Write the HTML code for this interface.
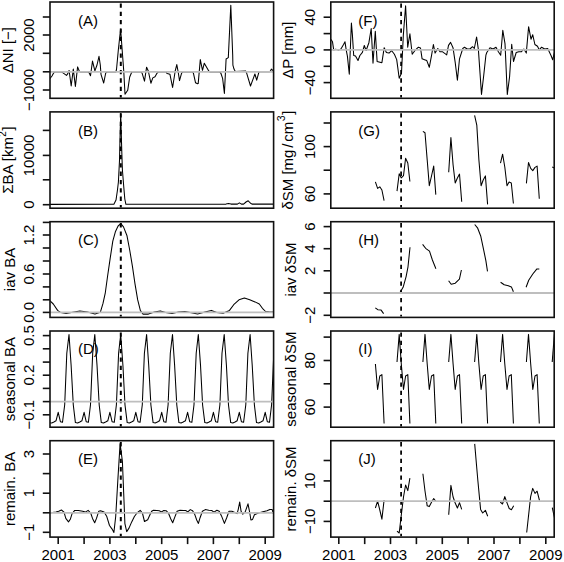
<!DOCTYPE html><html><head><meta charset="utf-8"><style>html,body{margin:0;padding:0;background:#fff;width:564px;height:562px;overflow:hidden}svg{display:block}text{font-family:"Liberation Sans",sans-serif;fill:#000}</style></head><body>
<svg width="564" height="562" viewBox="0 0 564 562">
<rect width="564" height="562" fill="#fff"/>
<clipPath id="cA"><rect x="50" y="2" width="223.6" height="96.3"/></clipPath>
<g clip-path="url(#cA)">
<polyline points="49.8,78.8 52,76 53.6,73.1 54.5,72 60,72 62.3,72.2 63.3,73.1 66.5,75.4 67.8,73.6 69.1,70.5 71.2,86 73.3,69.1 75.4,86.5 77.6,66.9 79.4,71.4 80.5,72 88,72 89.1,72.7 90.5,75.8 92.5,61.1 94.9,70.9 97,65 99,56.3 100.3,65 101,74.3 103.7,83 105.7,73 107,72 115.8,72 116.5,69.5 118.3,50.3 120.6,29 122.3,51.7 123.7,70.3 125,94.3 127.7,90.3 129.7,77 131.7,72.3 133,72 141,72 142.1,73.1 144.5,81.1 146.6,67.2 148.3,71 150.9,83.2 152.8,77.9 155,76.8 157.1,73.1 158.3,72 166,72 167.2,73.6 169.9,74.2 172.6,87.5 175.2,71 176.8,64.6 178.2,72 179.5,80.6 181.6,73.1 182.8,72 192.3,72 193.4,73.1 195.5,82.7 197.6,83.8 198.2,83.6 200.3,59.6 202.5,70.3 204.3,63.2 208.9,71.2 210,72 219.7,72 220.8,73 222.6,78.3 224.4,93.4 226.1,59 228.3,57.6 230.8,5.3 232.7,55 232.9,65.1 234,69.1 235.3,71.4 245.6,70.9 246.5,72.7 250.5,86 253.6,77.6 254.9,74 256.7,80.2 258.9,72.2 260,71.8 269.5,71.8 270.5,70.9 271.4,69.1 274,71.4" fill="none" stroke="#000" stroke-width="1.05" stroke-linejoin="round"/>
</g>
<line x1="120.8" x2="120.8" y1="2.8" y2="97.5" stroke="#000" stroke-width="2" stroke-dasharray="4.3 4.03" stroke-dashoffset="-0.6"/>
<line x1="50" x2="273.6" y1="71.8" y2="71.8" stroke="#bebebe" stroke-width="1.8"/>
<rect x="50" y="2" width="223.6" height="96.3" fill="none" stroke="#111" stroke-width="1.6"/>
<line x1="42.8" x2="50" y1="17" y2="17" stroke="#111" stroke-width="1.6"/>
<line x1="42.8" x2="50" y1="35" y2="35" stroke="#111" stroke-width="1.6"/>
<text transform="translate(34.1,35) rotate(-90)" text-anchor="middle" font-size="15">2000</text>
<line x1="42.8" x2="50" y1="53.3" y2="53.3" stroke="#111" stroke-width="1.6"/>
<line x1="42.8" x2="50" y1="71.8" y2="71.8" stroke="#111" stroke-width="1.6"/>
<line x1="42.8" x2="50" y1="90" y2="90" stroke="#111" stroke-width="1.6"/>
<text transform="translate(34.1,90) rotate(-90)" text-anchor="middle" font-size="15">−1000</text>
<text transform="translate(12.8,50.1) rotate(-90)" text-anchor="middle" font-size="15">ΔNI [−]</text>
<text x="77.9" y="26.1" font-size="15">(A)</text>
<clipPath id="cB"><rect x="50" y="111.9" width="223.6" height="96.3"/></clipPath>
<g clip-path="url(#cB)">
<polyline points="49.5,204.4 108,204.3 113.9,204.3 116,200.1 117.4,190.5 118.4,182 119.5,160.5 120.1,135 120.7,113.5 121.3,135 121.8,152 122.4,170 123.8,187.3 124.8,199 125.9,204.3 226,204.1 228.5,203.6 231,204.1 237.4,204.1 239.4,202.9 241.4,204.1 243.6,204.1 246,202 248.2,200.8 250.3,203 252,204.1 274,204.1" fill="none" stroke="#000" stroke-width="1.05" stroke-linejoin="round"/>
</g>
<line x1="120.8" x2="120.8" y1="112.7" y2="207.4" stroke="#000" stroke-width="2" stroke-dasharray="4.3 4.03" stroke-dashoffset="-0.6"/>
<rect x="50" y="111.9" width="223.6" height="96.3" fill="none" stroke="#111" stroke-width="1.6"/>
<line x1="42.8" x2="50" y1="130.4" y2="130.4" stroke="#111" stroke-width="1.6"/>
<line x1="42.8" x2="50" y1="155.4" y2="155.4" stroke="#111" stroke-width="1.6"/>
<text transform="translate(34.1,155.4) rotate(-90)" text-anchor="middle" font-size="15">10000</text>
<line x1="42.8" x2="50" y1="179.8" y2="179.8" stroke="#111" stroke-width="1.6"/>
<line x1="42.8" x2="50" y1="204.7" y2="204.7" stroke="#111" stroke-width="1.6"/>
<text transform="translate(34.1,204.7) rotate(-90)" text-anchor="middle" font-size="15">0</text>
<text transform="translate(12.8,160.1) rotate(-90)" text-anchor="middle" font-size="15">ΣBA [km<tspan font-size="10" dy="-6.5" dx="0.3">2</tspan><tspan dy="6.5" dx="0.6">]</tspan></text>
<text x="77.9" y="135.7" font-size="15">(B)</text>
<clipPath id="cC"><rect x="50" y="221.7" width="223.6" height="95.7"/></clipPath>
<g clip-path="url(#cC)">
<polyline points="49.5,300.5 50.1,300.9 53.3,304 57.6,310.4 60.8,312.6 66.1,313.6 71.4,312.6 79.9,311.1 87.4,312.1 95,314.1 100.3,312.3 103,303.4 105.3,292.8 107.5,276.7 110.1,258.9 112.8,241.1 115.5,231.4 118.1,226 120.8,223.7 123.5,226.9 127,235.8 129.7,250 132.4,266.1 135,283.9 137.7,299.9 140.4,310.6 143.1,314.1 148.4,314.1 154.4,312.1 160.3,310.9 165.6,312.6 172,313.6 178.4,311.9 184.8,311.5 190.1,312.6 197.6,314 205,312.1 211.4,310.4 216.7,312.6 223.1,313.2 229.5,310.4 233.7,304.7 239,299.8 244.4,298.1 249.7,299.8 255,301.9 259.3,304 262.4,308.3 265.6,311.5 269.9,312.1 274,312.1" fill="none" stroke="#000" stroke-width="1.05" stroke-linejoin="round"/>
</g>
<line x1="120.8" x2="120.8" y1="222.5" y2="316.6" stroke="#000" stroke-width="2" stroke-dasharray="4.3 4.03" stroke-dashoffset="-0.6"/>
<line x1="50" x2="273.6" y1="312.4" y2="312.4" stroke="#bebebe" stroke-width="1.8"/>
<rect x="50" y="221.7" width="223.6" height="95.7" fill="none" stroke="#111" stroke-width="1.6"/>
<line x1="42.8" x2="50" y1="222.4" y2="222.4" stroke="#111" stroke-width="1.6"/>
<line x1="42.8" x2="50" y1="235" y2="235" stroke="#111" stroke-width="1.6"/>
<text transform="translate(34.1,235) rotate(-90)" text-anchor="middle" font-size="15">1.2</text>
<line x1="42.8" x2="50" y1="248" y2="248" stroke="#111" stroke-width="1.6"/>
<line x1="42.8" x2="50" y1="261" y2="261" stroke="#111" stroke-width="1.6"/>
<line x1="42.8" x2="50" y1="274" y2="274" stroke="#111" stroke-width="1.6"/>
<text transform="translate(34.1,274) rotate(-90)" text-anchor="middle" font-size="15">0.6</text>
<line x1="42.8" x2="50" y1="286.9" y2="286.9" stroke="#111" stroke-width="1.6"/>
<line x1="42.8" x2="50" y1="299.8" y2="299.8" stroke="#111" stroke-width="1.6"/>
<line x1="42.8" x2="50" y1="312.4" y2="312.4" stroke="#111" stroke-width="1.6"/>
<text transform="translate(34.1,312.4) rotate(-90)" text-anchor="middle" font-size="15">0.0</text>
<text transform="translate(15.2,269.5) rotate(-90)" text-anchor="middle" font-size="15">iav BA</text>
<text x="77.9" y="245.1" font-size="15">(C)</text>
<clipPath id="cD"><rect x="50" y="331" width="223.6" height="96.2"/></clipPath>
<g clip-path="url(#cD)">
<polyline points="47.4,405 49.6,422.6 51.7,423 53.9,422 56,420.8 58.2,412.3 60.4,421.7 62.5,422.3 64.7,404.8 66.8,353.2 69,334.5 71.1,365 73.3,405 75.4,422.6 77.6,423 79.8,422 81.9,420.8 84.1,412.3 86.2,421.7 88.4,422.3 90.5,404.8 92.7,353.2 94.8,334.5 97,365 99.2,405 101.3,422.6 103.5,423 105.6,422 107.8,420.8 109.9,412.3 112.1,421.7 114.3,422.3 116.4,404.8 118.6,353.2 120.7,334.5 122.9,365 125,405 127.2,422.6 129.3,423 131.5,422 133.7,420.8 135.8,412.3 138,421.7 140.1,422.3 142.3,404.8 144.4,353.2 146.6,334.5 148.7,365 150.9,405 153.1,422.6 155.2,423 157.4,422 159.5,420.8 161.7,412.3 163.8,421.7 166,422.3 168.1,404.8 170.3,353.2 172.5,334.5 174.6,365 176.8,405 178.9,422.6 181.1,423 183.2,422 185.4,420.8 187.6,412.3 189.7,421.7 191.9,422.3 194,404.8 196.2,353.2 198.3,334.5 200.5,365 202.6,405 204.8,422.6 207,423 209.1,422 211.3,420.8 213.4,412.3 215.6,421.7 217.7,422.3 219.9,404.8 222,353.2 224.2,334.5 226.4,365 228.5,405 230.7,422.6 232.8,423 235,422 237.1,420.8 239.3,412.3 241.4,421.7 243.6,422.3 245.8,404.8 247.9,353.2 250.1,334.5 252.2,365 254.4,405 256.5,422.6 258.7,423 260.8,422 263,420.8 265.2,412.3 267.3,421.7 269.5,422.3 271.6,404.8 273.8,353.2 275.9,334.5" fill="none" stroke="#000" stroke-width="1.05" stroke-linejoin="round"/>
</g>
<line x1="120.8" x2="120.8" y1="331.8" y2="426.4" stroke="#000" stroke-width="2" stroke-dasharray="4.3 4.03" stroke-dashoffset="-0.6"/>
<line x1="50" x2="273.6" y1="401.6" y2="401.6" stroke="#bebebe" stroke-width="1.8"/>
<rect x="50" y="331" width="223.6" height="96.2" fill="none" stroke="#111" stroke-width="1.6"/>
<line x1="42.8" x2="50" y1="335.6" y2="335.6" stroke="#111" stroke-width="1.6"/>
<text transform="translate(34.1,335.6) rotate(-90)" text-anchor="middle" font-size="15">0.5</text>
<line x1="42.8" x2="50" y1="348.8" y2="348.8" stroke="#111" stroke-width="1.6"/>
<line x1="42.8" x2="50" y1="362.1" y2="362.1" stroke="#111" stroke-width="1.6"/>
<line x1="42.8" x2="50" y1="375.2" y2="375.2" stroke="#111" stroke-width="1.6"/>
<text transform="translate(34.1,375.2) rotate(-90)" text-anchor="middle" font-size="15">0.2</text>
<line x1="42.8" x2="50" y1="388.4" y2="388.4" stroke="#111" stroke-width="1.6"/>
<line x1="42.8" x2="50" y1="401.6" y2="401.6" stroke="#111" stroke-width="1.6"/>
<line x1="42.8" x2="50" y1="414.8" y2="414.8" stroke="#111" stroke-width="1.6"/>
<text transform="translate(34.1,414.8) rotate(-90)" text-anchor="middle" font-size="15">−0.1</text>
<text transform="translate(15.2,379.1) rotate(-90)" text-anchor="middle" font-size="15">seasonal BA</text>
<text x="77.9" y="354.3" font-size="15">(D)</text>
<clipPath id="cE"><rect x="50" y="440.7" width="223.6" height="96.4"/></clipPath>
<g clip-path="url(#cE)">
<polyline points="49.5,512.9 50.7,512.7 56,512.1 58.7,511.2 61.4,510 64,512.1 65.8,518.4 68.5,521.9 70.3,519.3 72,513.9 74.7,510.4 78.3,510.4 82.7,511.2 85.4,512.1 88.1,510.4 90.7,513 92.5,518.4 94.7,522.8 96.5,518.4 98.8,511.2 100.5,510.7 104.1,512.1 106.8,516.6 109.5,525.5 112.1,529.1 113.9,532.5 115.7,516.5 117.8,480.9 120.1,443.6 122.4,461.4 123.7,493.4 124.9,523.6 126.7,531.6 129,528.1 131.7,521.9 134.4,516.5 137,513 140.2,510.3 142.4,513 144.5,521.5 147.7,519.7 150.4,513.8 151.7,511.3 153.5,510.2 156.9,510.5 159.2,510.7 161.5,511.9 163.8,510.5 166.1,510.7 168.4,513 170.7,518.8 172.7,522.8 174.8,517.1 177.1,511.3 180,510.2 183.4,510.5 185.7,510.5 187.8,511.9 190.3,509.6 192.6,510.7 194.9,514.8 196.7,520 198.4,523.4 200.1,517.7 202.4,511.3 205.3,509.6 208.8,510.2 211.7,510.5 214,512.1 216.9,510.2 219.2,511.3 221.5,515.9 224.4,523.4 226.7,517.7 229,511.3 231.9,511.3 234.8,512.5 237.1,513.6 238.2,509.6 239.7,502.1 241.1,511.3 242.8,514.2 245.2,511.9 248,503.8 249.8,513 250.9,520 252.6,519.4 254.4,514.8 258.4,513 263,511.7 267,510.7 269.9,509.4 272.2,509.6 274,516" fill="none" stroke="#000" stroke-width="1.05" stroke-linejoin="round"/>
</g>
<line x1="120.8" x2="120.8" y1="441.5" y2="536.3" stroke="#000" stroke-width="2" stroke-dasharray="4.3 4.03" stroke-dashoffset="-0.6"/>
<line x1="50" x2="273.6" y1="512.8" y2="512.8" stroke="#bebebe" stroke-width="1.8"/>
<rect x="50" y="440.7" width="223.6" height="96.4" fill="none" stroke="#111" stroke-width="1.6"/>
<line x1="42.8" x2="50" y1="454" y2="454" stroke="#111" stroke-width="1.6"/>
<text transform="translate(34.1,454) rotate(-90)" text-anchor="middle" font-size="15">3</text>
<line x1="42.8" x2="50" y1="473.6" y2="473.6" stroke="#111" stroke-width="1.6"/>
<line x1="42.8" x2="50" y1="493.2" y2="493.2" stroke="#111" stroke-width="1.6"/>
<text transform="translate(34.1,493.2) rotate(-90)" text-anchor="middle" font-size="15">1</text>
<line x1="42.8" x2="50" y1="512.8" y2="512.8" stroke="#111" stroke-width="1.6"/>
<line x1="42.8" x2="50" y1="532.3" y2="532.3" stroke="#111" stroke-width="1.6"/>
<text transform="translate(34.1,532.3) rotate(-90)" text-anchor="middle" font-size="15">−1</text>
<text transform="translate(15.2,488.9) rotate(-90)" text-anchor="middle" font-size="15">remain. BA</text>
<text x="77.9" y="464.1" font-size="15">(E)</text>
<line x1="58.2" x2="58.2" y1="537.1" y2="544.1" stroke="#111" stroke-width="1.6"/>
<text x="58.2" y="560.3" text-anchor="middle" font-size="15">2001</text>
<line x1="84.1" x2="84.1" y1="537.1" y2="544.1" stroke="#111" stroke-width="1.6"/>
<line x1="109.9" x2="109.9" y1="537.1" y2="544.1" stroke="#111" stroke-width="1.6"/>
<text x="109.9" y="560.3" text-anchor="middle" font-size="15">2003</text>
<line x1="135.8" x2="135.8" y1="537.1" y2="544.1" stroke="#111" stroke-width="1.6"/>
<line x1="161.7" x2="161.7" y1="537.1" y2="544.1" stroke="#111" stroke-width="1.6"/>
<text x="161.7" y="560.3" text-anchor="middle" font-size="15">2005</text>
<line x1="187.6" x2="187.6" y1="537.1" y2="544.1" stroke="#111" stroke-width="1.6"/>
<line x1="213.4" x2="213.4" y1="537.1" y2="544.1" stroke="#111" stroke-width="1.6"/>
<text x="213.4" y="560.3" text-anchor="middle" font-size="15">2007</text>
<line x1="239.3" x2="239.3" y1="537.1" y2="544.1" stroke="#111" stroke-width="1.6"/>
<line x1="265.2" x2="265.2" y1="537.1" y2="544.1" stroke="#111" stroke-width="1.6"/>
<text x="265.2" y="560.3" text-anchor="middle" font-size="15">2009</text>
<clipPath id="cF"><rect x="330.8" y="2" width="223.4" height="96.3"/></clipPath>
<g clip-path="url(#cF)">
<polyline points="330,38.5 331.2,39.9 332.5,41.8 333.7,49.9 335.6,49.3 338.7,50.1 341.2,48.6 343.7,44.3 345,41.8 346.2,49.9 347.4,56.1 349.3,74.2 351.4,23.1 352.4,34.9 353.7,55.5 355.5,56.1 358,60.5 359.9,55.5 362.4,52.4 364.3,45.5 366.1,50.5 368.9,42.7 371.2,28.5 373,63.2 375.3,31.2 377.1,61.4 381.9,62.7 384.2,47.7 386.4,52.5 389,53.1 391.7,50.7 394.4,54.3 396.7,59.6 399.2,78.3 401.5,73 403.3,35.6 405.6,5.7 407.7,47.2 409.9,33.8 412.2,54.3 414.8,50.7 418.4,47.2 420.5,48 422.1,58.8 424.5,59.7 426.8,60.6 429.3,67.3 431.6,55.2 433.4,44.5 435.1,53.1 437.8,48.5 440,51.7 442.3,51.7 446.7,54.9 448.5,45.4 450.6,42.4 453,47.7 455.3,63.2 457.4,80.2 459.5,58.8 462.8,48.5 464.5,47.2 467.2,49 469.9,49 472.5,46.7 474.3,48.5 476.6,37 478.4,49.9 481.5,94.4 483.8,74.8 485.9,55.2 486.8,52.5 490,47.7 493,49 496,47.2 498.4,51.7 500.7,55.2 502.8,30.3 505,43.6 507.3,94.4 509.6,76.6 511.7,44.2 513.5,61.5 516.2,52.5 518.8,51.7 521.5,51.7 523.8,49 526.3,53.1 528.6,26.7 531,39.2 532.7,34.7 534.9,44.5 537.5,46.3 539.3,49.9 541.6,47.2 544.7,49 547.7,48.5 550.9,55.2 552.7,59.7 555,50" fill="none" stroke="#000" stroke-width="1.05" stroke-linejoin="round"/>
</g>
<line x1="401.1" x2="401.1" y1="2.8" y2="97.5" stroke="#000" stroke-width="1.75" stroke-dasharray="4.3 4.03" stroke-dashoffset="-0.6"/>
<line x1="330.8" x2="554.2" y1="49.9" y2="49.9" stroke="#bebebe" stroke-width="1.8"/>
<rect x="330.8" y="2" width="223.4" height="96.3" fill="none" stroke="#111" stroke-width="1.6"/>
<line x1="323.6" x2="330.8" y1="17.2" y2="17.2" stroke="#111" stroke-width="1.6"/>
<text transform="translate(314.9,17.2) rotate(-90)" text-anchor="middle" font-size="15">40</text>
<line x1="323.6" x2="330.8" y1="33.6" y2="33.6" stroke="#111" stroke-width="1.6"/>
<line x1="323.6" x2="330.8" y1="49.9" y2="49.9" stroke="#111" stroke-width="1.6"/>
<text transform="translate(314.9,49.9) rotate(-90)" text-anchor="middle" font-size="15">0</text>
<line x1="323.6" x2="330.8" y1="66.3" y2="66.3" stroke="#111" stroke-width="1.6"/>
<line x1="323.6" x2="330.8" y1="82.6" y2="82.6" stroke="#111" stroke-width="1.6"/>
<text transform="translate(314.9,82.6) rotate(-90)" text-anchor="middle" font-size="15">−40</text>
<text transform="translate(293,50.1) rotate(-90)" text-anchor="middle" font-size="15">ΔP [mm]</text>
<text x="358.3" y="26.1" font-size="15">(F)</text>
<clipPath id="cG"><rect x="330.8" y="111.9" width="223.4" height="96.3"/></clipPath>
<g clip-path="url(#cG)">
<polyline points="375.4,181.8 377.6,188.4 379.8,186.8 381.9,190 384.1,200.7" fill="none" stroke="#000" stroke-width="1.05" stroke-linejoin="round"/>
<polyline points="397,191.1 399.2,173.7 401.3,177.9 403.5,175.6 405.6,158.3 407.8,163 409.9,181.5" fill="none" stroke="#000" stroke-width="1.05" stroke-linejoin="round"/>
<polyline points="422.9,131.4 425,132.8 427.2,160 429.3,185.7 431.5,176 433.7,166.1 435.8,194.6" fill="none" stroke="#000" stroke-width="1.05" stroke-linejoin="round"/>
<polyline points="448.7,172.3 450.9,137.6 453.1,165 455.2,183 457.4,178 459.5,174.1 461.7,201.7" fill="none" stroke="#000" stroke-width="1.05" stroke-linejoin="round"/>
<polyline points="474.6,115.3 476.8,125.1 478.9,160 481.1,185.7 483.2,180 485.4,175.9 487.6,204.4" fill="none" stroke="#000" stroke-width="1.05" stroke-linejoin="round"/>
<polyline points="500.5,163.1 502.6,154.2 504.8,167 507,185.7 509.1,182.1 511.3,183 513.4,203.5" fill="none" stroke="#000" stroke-width="1.05" stroke-linejoin="round"/>
<polyline points="526.4,183.4 528.5,162.5 530.7,168.4 532.8,170.6 535,167.4 537.1,166.1 539.3,198.7" fill="none" stroke="#000" stroke-width="1.05" stroke-linejoin="round"/>
<polyline points="552.2,167 554.4,168" fill="none" stroke="#000" stroke-width="1.05" stroke-linejoin="round"/>
</g>
<line x1="401.1" x2="401.1" y1="112.7" y2="207.4" stroke="#000" stroke-width="1.75" stroke-dasharray="4.3 4.03" stroke-dashoffset="-0.6"/>
<rect x="330.8" y="111.9" width="223.4" height="96.3" fill="none" stroke="#111" stroke-width="1.6"/>
<line x1="323.6" x2="330.8" y1="123" y2="123" stroke="#111" stroke-width="1.6"/>
<line x1="323.6" x2="330.8" y1="146.6" y2="146.6" stroke="#111" stroke-width="1.6"/>
<text transform="translate(314.9,146.6) rotate(-90)" text-anchor="middle" font-size="15">100</text>
<line x1="323.6" x2="330.8" y1="170.2" y2="170.2" stroke="#111" stroke-width="1.6"/>
<line x1="323.6" x2="330.8" y1="193.9" y2="193.9" stroke="#111" stroke-width="1.6"/>
<text transform="translate(314.9,193.9) rotate(-90)" text-anchor="middle" font-size="15">60</text>
<text transform="translate(292.6,160.1) rotate(-90)" text-anchor="middle" font-size="15">δSM [mg<tspan dx="1.8">/</tspan><tspan dx="1.8">cm</tspan><tspan font-size="10.5" dy="-7.3" dx="0.5">3</tspan><tspan dy="7.3" dx="0.7">]</tspan></text>
<text x="358.3" y="135.7" font-size="15">(G)</text>
<clipPath id="cH"><rect x="330.8" y="221.7" width="223.4" height="95.7"/></clipPath>
<g clip-path="url(#cH)">
<polyline points="375.3,307.8 377.8,309.7 381.1,310.1 383.6,313.6" fill="none" stroke="#000" stroke-width="1.05" stroke-linejoin="round"/>
<polyline points="400.2,292.2 403.1,287.3 406.1,276.6 408,266.8 410,247.3" fill="none" stroke="#000" stroke-width="1.05" stroke-linejoin="round"/>
<polyline points="422.6,244.4 425.6,248.3 429.5,251.2 432.4,260 435.9,268.8" fill="none" stroke="#000" stroke-width="1.05" stroke-linejoin="round"/>
<polyline points="448.6,280.8 451.2,284.2 455.3,283.2 459.4,279.1 461.4,270" fill="none" stroke="#000" stroke-width="1.05" stroke-linejoin="round"/>
<polyline points="474.7,224.5 477.7,228.2 480.8,236.3 483.8,250.6 485.9,260.8 487.5,271.4" fill="none" stroke="#000" stroke-width="1.05" stroke-linejoin="round"/>
<polyline points="500.6,282.2 504.2,284.8 508.3,285.7 511.4,286.9 513.4,291.8" fill="none" stroke="#000" stroke-width="1.05" stroke-linejoin="round"/>
<polyline points="526.1,287.3 528.7,280.2 532.8,274 536.9,268.9 539.3,268.9" fill="none" stroke="#000" stroke-width="1.05" stroke-linejoin="round"/>
</g>
<line x1="401.1" x2="401.1" y1="222.5" y2="316.6" stroke="#000" stroke-width="1.75" stroke-dasharray="4.3 4.03" stroke-dashoffset="-0.6"/>
<line x1="330.8" x2="554.2" y1="293" y2="293" stroke="#bebebe" stroke-width="1.8"/>
<rect x="330.8" y="221.7" width="223.4" height="95.7" fill="none" stroke="#111" stroke-width="1.6"/>
<line x1="323.6" x2="330.8" y1="226.6" y2="226.6" stroke="#111" stroke-width="1.6"/>
<text transform="translate(314.9,226.6) rotate(-90)" text-anchor="middle" font-size="15">6</text>
<line x1="323.6" x2="330.8" y1="248.7" y2="248.7" stroke="#111" stroke-width="1.6"/>
<text transform="translate(314.9,248.7) rotate(-90)" text-anchor="middle" font-size="15">4</text>
<line x1="323.6" x2="330.8" y1="270.8" y2="270.8" stroke="#111" stroke-width="1.6"/>
<text transform="translate(314.9,270.8) rotate(-90)" text-anchor="middle" font-size="15">2</text>
<line x1="323.6" x2="330.8" y1="293" y2="293" stroke="#111" stroke-width="1.6"/>
<line x1="323.6" x2="330.8" y1="315.3" y2="315.3" stroke="#111" stroke-width="1.6"/>
<text transform="translate(314.9,315.3) rotate(-90)" text-anchor="middle" font-size="15">−2</text>
<text transform="translate(295.8,269.5) rotate(-90)" text-anchor="middle" font-size="15">iav δSM</text>
<text x="358.3" y="245.1" font-size="15">(H)</text>
<clipPath id="cI"><rect x="330.8" y="331" width="223.4" height="96.2"/></clipPath>
<g clip-path="url(#cI)">
<polyline points="375.4,364 377.6,389.5 379.8,376 381.9,374.6 384.1,423.4" fill="none" stroke="#000" stroke-width="1.05" stroke-linejoin="round"/>
<polyline points="397,362 399.2,334.4 401.3,364 403.5,389.5 405.6,376 407.8,374.6 409.9,423.4" fill="none" stroke="#000" stroke-width="1.05" stroke-linejoin="round"/>
<polyline points="422.9,362 425,334.4 427.2,364 429.3,389.5 431.5,376 433.7,374.6 435.8,423.4" fill="none" stroke="#000" stroke-width="1.05" stroke-linejoin="round"/>
<polyline points="448.7,362 450.9,334.4 453.1,364 455.2,389.5 457.4,376 459.5,374.6 461.7,423.4" fill="none" stroke="#000" stroke-width="1.05" stroke-linejoin="round"/>
<polyline points="474.6,362 476.8,334.4 478.9,364 481.1,389.5 483.2,376 485.4,374.6 487.6,423.4" fill="none" stroke="#000" stroke-width="1.05" stroke-linejoin="round"/>
<polyline points="500.5,362 502.6,334.4 504.8,364 507,389.5 509.1,376 511.3,374.6 513.4,423.4" fill="none" stroke="#000" stroke-width="1.05" stroke-linejoin="round"/>
<polyline points="526.4,362 528.5,334.4 530.7,364 532.8,389.5 535,376 537.1,374.6 539.3,423.4" fill="none" stroke="#000" stroke-width="1.05" stroke-linejoin="round"/>
<polyline points="552.2,362 554.4,334.4" fill="none" stroke="#000" stroke-width="1.05" stroke-linejoin="round"/>
</g>
<line x1="401.1" x2="401.1" y1="331.8" y2="426.4" stroke="#000" stroke-width="1.75" stroke-dasharray="4.3 4.03" stroke-dashoffset="-0.6"/>
<rect x="330.8" y="331" width="223.4" height="96.2" fill="none" stroke="#111" stroke-width="1.6"/>
<line x1="323.6" x2="330.8" y1="337.1" y2="337.1" stroke="#111" stroke-width="1.6"/>
<line x1="323.6" x2="330.8" y1="360.5" y2="360.5" stroke="#111" stroke-width="1.6"/>
<text transform="translate(314.9,360.5) rotate(-90)" text-anchor="middle" font-size="15">80</text>
<line x1="323.6" x2="330.8" y1="383.8" y2="383.8" stroke="#111" stroke-width="1.6"/>
<line x1="323.6" x2="330.8" y1="407.1" y2="407.1" stroke="#111" stroke-width="1.6"/>
<text transform="translate(314.9,407.1) rotate(-90)" text-anchor="middle" font-size="15">60</text>
<text transform="translate(295.8,379.1) rotate(-90)" text-anchor="middle" font-size="15">seasonal δSM</text>
<text x="358.3" y="354.3" font-size="15">(I)</text>
<clipPath id="cJ"><rect x="330.8" y="440.7" width="223.4" height="96.4"/></clipPath>
<g clip-path="url(#cJ)">
<polyline points="375.4,508 377.6,501.2 379.8,510 381.9,519.2 384.1,500" fill="none" stroke="#000" stroke-width="1.05" stroke-linejoin="round"/>
<polyline points="397,531.1 399.2,533 401.3,515 403.5,497 405.6,485 407.8,490.6 409.9,478.1" fill="none" stroke="#000" stroke-width="1.05" stroke-linejoin="round"/>
<polyline points="422.9,473.8 425,491 427.2,505.8 429.3,506.6 431.5,502.2 433.7,498.6 435.8,501.3" fill="none" stroke="#000" stroke-width="1.05" stroke-linejoin="round"/>
<polyline points="448.7,514.8 450.9,485.4 453.1,497 455.2,503 457.4,508 459.5,502.7 461.7,509.4" fill="none" stroke="#000" stroke-width="1.05" stroke-linejoin="round"/>
<polyline points="474.7,443.9 476.5,465 477.9,481 480.6,509.4 482.7,513 485.4,510.3 487.7,516.2" fill="none" stroke="#000" stroke-width="1.05" stroke-linejoin="round"/>
<polyline points="500.3,502.2 502.5,504 504.8,496.6 507.1,503.1 509.2,508.5 511.4,509.7 513.7,505.8" fill="none" stroke="#000" stroke-width="1.05" stroke-linejoin="round"/>
<polyline points="526.7,532.5 530.6,496.9 532.7,488.4 535,493.4 537.1,491.2 539.5,500.5" fill="none" stroke="#000" stroke-width="1.05" stroke-linejoin="round"/>
<polyline points="552.3,507.6 554.5,518" fill="none" stroke="#000" stroke-width="1.05" stroke-linejoin="round"/>
</g>
<line x1="401.1" x2="401.1" y1="441.5" y2="536.3" stroke="#000" stroke-width="1.75" stroke-dasharray="4.3 4.03" stroke-dashoffset="-0.6"/>
<line x1="330.8" x2="554.2" y1="501.2" y2="501.2" stroke="#bebebe" stroke-width="1.8"/>
<rect x="330.8" y="440.7" width="223.4" height="96.4" fill="none" stroke="#111" stroke-width="1.6"/>
<line x1="323.6" x2="330.8" y1="460.5" y2="460.5" stroke="#111" stroke-width="1.6"/>
<line x1="323.6" x2="330.8" y1="480.9" y2="480.9" stroke="#111" stroke-width="1.6"/>
<text transform="translate(314.9,480.9) rotate(-90)" text-anchor="middle" font-size="15">10</text>
<line x1="323.6" x2="330.8" y1="501.2" y2="501.2" stroke="#111" stroke-width="1.6"/>
<line x1="323.6" x2="330.8" y1="521.4" y2="521.4" stroke="#111" stroke-width="1.6"/>
<text transform="translate(314.9,521.4) rotate(-90)" text-anchor="middle" font-size="15">−10</text>
<text transform="translate(295.8,488.9) rotate(-90)" text-anchor="middle" font-size="15">remain. δSM</text>
<text x="358.3" y="464.1" font-size="15">(J)</text>
<line x1="338.8" x2="338.8" y1="537.1" y2="544.1" stroke="#111" stroke-width="1.6"/>
<text x="338.8" y="560.3" text-anchor="middle" font-size="15">2001</text>
<line x1="364.7" x2="364.7" y1="537.1" y2="544.1" stroke="#111" stroke-width="1.6"/>
<line x1="390.5" x2="390.5" y1="537.1" y2="544.1" stroke="#111" stroke-width="1.6"/>
<text x="390.5" y="560.3" text-anchor="middle" font-size="15">2003</text>
<line x1="416.4" x2="416.4" y1="537.1" y2="544.1" stroke="#111" stroke-width="1.6"/>
<line x1="442.3" x2="442.3" y1="537.1" y2="544.1" stroke="#111" stroke-width="1.6"/>
<text x="442.3" y="560.3" text-anchor="middle" font-size="15">2005</text>
<line x1="468.1" x2="468.1" y1="537.1" y2="544.1" stroke="#111" stroke-width="1.6"/>
<line x1="494" x2="494" y1="537.1" y2="544.1" stroke="#111" stroke-width="1.6"/>
<text x="494" y="560.3" text-anchor="middle" font-size="15">2007</text>
<line x1="519.9" x2="519.9" y1="537.1" y2="544.1" stroke="#111" stroke-width="1.6"/>
<line x1="545.8" x2="545.8" y1="537.1" y2="544.1" stroke="#111" stroke-width="1.6"/>
<text x="545.8" y="560.3" text-anchor="middle" font-size="15">2009</text>
</svg></body></html>
